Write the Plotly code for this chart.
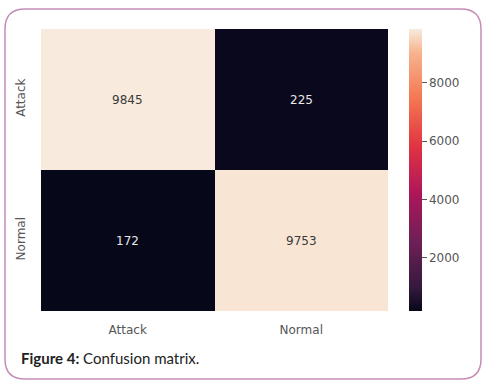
import plotly.graph_objects as go

# Data
labels = ["Attack", "Normal"]
matrix = [[9845, 225],
          [172, 9753]]
cbar_ticks = [2000, 4000, 6000, 8000]
caption_bold = "Figure 4:"
caption_text = "Confusion matrix."

rocket = [
    [0.0, "#07071a"],
    [0.0833, "#35193e"],
    [0.25, "#701f57"],
    [0.4167, "#ad1759"],
    [0.5833, "#e13342"],
    [0.75, "#f37651"],
    [0.9167, "#f6b48f"],
    [1.0, "#f8ebdd"],
]

W, H = 488, 386
L, R, T, B = 41, 100, 29, 75
pw, ph = W - L - R, H - T - B

def px(x):
    return (x - L) / pw

def py(y):
    return (H - B - y) / ph

zmin = min(min(r) for r in matrix)
zmax = max(max(r) for r in matrix)

fig = go.Figure(go.Heatmap(
    z=matrix, x=labels, y=labels,
    colorscale=rocket, zmin=zmin, zmax=zmax,
    xgap=0, ygap=0,
    colorbar=dict(
        x=px(409), xanchor="left", xpad=0, ypad=0,
        thickness=13, len=1, lenmode="fraction", y=0.5, yanchor="middle",
        outlinewidth=0,
        tickvals=cbar_ticks, ticks="outside", ticklen=5, tickwidth=1.2,
        tickcolor="#555", tickfont=dict(family="DejaVu Sans", size=12, color="#555"),
    ),
    hoverinfo="skip",
))

annotations = []
mid = (zmin + zmax) / 2
for i, row in enumerate(matrix):
    for j, v in enumerate(row):
        annotations.append(dict(
            x=labels[j], y=labels[i], xref="x", yref="y", text=str(v),
            showarrow=False,
            font=dict(family="DejaVu Sans", size=12,
                      color="#3a3a3a" if v > mid else "#e6e6e6"),
        ))

annotations.append(dict(
    x=px(19), y=py(358), xref="paper", yref="paper", xanchor="left", yanchor="middle",
    text=f"<b>{caption_bold}</b> {caption_text}", showarrow=False,
    font=dict(family="Lato", size=15, color="#222222"),
))

# rounded border
x0, x1, y0, y1, r = 5, 481, 9, 379, 20
def P(x, y):
    return f"{px(x):.5f},{py(y):.5f}"
path = (f"M {P(x0 + r, y0)} L {P(x1 - r, y0)} Q {P(x1, y0)} {P(x1, y0 + r)} "
        f"L {P(x1, y1 - r)} Q {P(x1, y1)} {P(x1 - r, y1)} "
        f"L {P(x0 + r, y1)} Q {P(x0, y1)} {P(x0, y1 - r)} "
        f"L {P(x0, y0 + r)} Q {P(x0, y0)} {P(x0 + r, y0)} Z")

fig.update_layout(
    width=W, height=H,
    margin=dict(l=L, r=R, t=T, b=B),
    paper_bgcolor="white", plot_bgcolor="white",
    annotations=annotations,
    shapes=[dict(type="path", path=path, xref="paper", yref="paper",
                 line=dict(color="#c48db8", width=1.5), layer="above")],
    xaxis=dict(showgrid=False, zeroline=False, showline=False,
               ticks="outside", ticklen=8, tickcolor="rgba(0,0,0,0)",
               tickfont=dict(family="DejaVu Sans", size=12, color="#555")),
    yaxis=dict(showgrid=False, zeroline=False, showline=False, autorange="reversed",
               ticks="outside", ticklen=10, tickcolor="rgba(0,0,0,0)", tickangle=-90,
               tickfont=dict(family="DejaVu Sans", size=12, color="#555")),
)

fig.write_html("out.html", config={"displayModeBar": False},
               post_script="document.body.style.margin='0';document.body.style.overflow='hidden';")
